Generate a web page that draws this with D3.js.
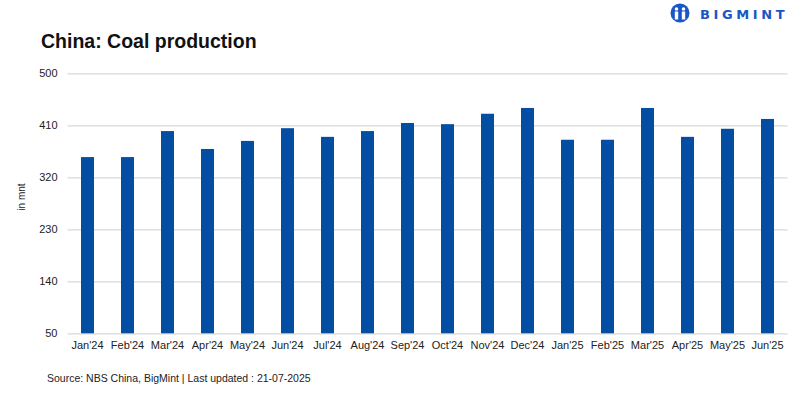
<!DOCTYPE html>
<html>
<head>
<meta charset="utf-8">
<script src="https://cdn.jsdelivr.net/npm/d3@7"></script>
<style>
  body { margin: 0; background: #fff; }
  text { font-family: "Liberation Sans", Arial, sans-serif; }
</style>
</head>
<body>
<div id="chart"></div>
<script>
const FRAME_WIDTH = 800;
const FRAME_HEIGHT = 400;
const MARGINS = {left: 67.5, right: 12.5, top: 73.3, bottom: 66.7};

// data
const MONTHS = ["Jan'24", "Feb'24", "Mar'24", "Apr'24", "May'24", "Jun'24",
                "Jul'24", "Aug'24", "Sep'24", "Oct'24", "Nov'24", "Dec'24",
                "Jan'25", "Feb'25", "Mar'25", "Apr'25", "May'25", "Jun'25"];
const PRODUCTION = [355, 355, 400, 369, 383, 405,
                    390, 400, 414, 412, 430, 440,
                    385, 385, 440, 390, 404, 421];
const Y_TICKS = [50, 140, 230, 320, 410, 500];

const VIS_WIDTH = FRAME_WIDTH - MARGINS.left - MARGINS.right;
const VIS_HEIGHT = FRAME_HEIGHT - MARGINS.top - MARGINS.bottom;

const FRAME = d3.select("#chart")
                  .append("svg")
                    .attr("width", FRAME_WIDTH)
                    .attr("height", FRAME_HEIGHT);

const X_SCALE = d3.scaleBand()
                    .domain(MONTHS)
                    .range([0, VIS_WIDTH])
                    .paddingInner(0.675)
                    .paddingOuter(0.3375);
const Y_SCALE = d3.scaleLinear()
                    .domain([50, 500])
                    .range([VIS_HEIGHT, 0]);

const PLOT = FRAME.append("g")
    .attr("transform", "translate(" + MARGINS.left + "," + MARGINS.top + ")");

// gridlines + y labels
const yAxis = PLOT.append("g")
    .call(d3.axisLeft(Y_SCALE).tickValues(Y_TICKS).tickSize(-VIS_WIDTH).tickPadding(10));
yAxis.select(".domain").remove();
yAxis.selectAll("line").attr("stroke", "#d9d9d9").attr("stroke-width", 1.3);
yAxis.selectAll("text")
    .attr("font-size", "11px")
    .attr("fill", "#222")
    .style("font-family", "'Liberation Sans', Arial, sans-serif");

// bars
PLOT.selectAll(".bar")
    .data(PRODUCTION)
    .enter()
    .append("rect")
      .attr("class", "bar")
      .attr("x", (d, i) => X_SCALE(MONTHS[i]))
      .attr("y", (d) => Y_SCALE(d))
      .attr("width", X_SCALE.bandwidth())
      .attr("height", (d) => VIS_HEIGHT - Y_SCALE(d))
      .attr("fill", "#034ea2");

// x labels
const xAxis = PLOT.append("g")
    .attr("transform", "translate(0," + VIS_HEIGHT + ")")
    .call(d3.axisBottom(X_SCALE).tickSize(0).tickPadding(8));
xAxis.select(".domain").remove();
xAxis.selectAll("text")
    .attr("font-size", "11px")
    .attr("fill", "#222")
    .style("font-family", "'Liberation Sans', Arial, sans-serif");

// y axis title
FRAME.append("text")
    .attr("transform", "translate(25,197) rotate(-90)")
    .attr("text-anchor", "middle")
    .attr("font-size", "10px")
    .attr("fill", "#222")
    .text("in mnt");

// title
FRAME.append("text")
    .attr("x", 41)
    .attr("y", 47.5)
    .attr("font-size", "19.5px")
    .attr("font-weight", "bold")
    .attr("fill", "#111")
    .text("China: Coal production");

// source
FRAME.append("text")
    .attr("x", 47)
    .attr("y", 382)
    .attr("font-size", "10.5px")
    .attr("fill", "#222")
    .text("Source: NBS China, BigMint | Last updated : 21-07-2025");

// logo
const LOGO = FRAME.append("g").attr("transform", "translate(680,13)");
LOGO.append("circle").attr("r", 9.5).attr("fill", "#1a56c4");
LOGO.append("circle").attr("cx", -3.5).attr("cy", -4).attr("r", 1.8).attr("fill", "#fff");
LOGO.append("circle").attr("cx", 3.5).attr("cy", -4).attr("r", 1.8).attr("fill", "#fff");
LOGO.append("rect").attr("x", -5.2).attr("y", -1.5).attr("width", 3.4).attr("height", 8).attr("fill", "#fff");
LOGO.append("rect").attr("x", 1.8).attr("y", -1.5).attr("width", 3.4).attr("height", 8).attr("fill", "#fff");
LOGO.append("rect").attr("x", -0.9).attr("y", -6).attr("width", 1.8).attr("height", 12).attr("fill", "#1a56c4");
FRAME.append("text")
    .attr("x", 700)
    .attr("y", 18.5)
    .attr("font-size", "13px")
    .attr("font-weight", "bold")
    .attr("letter-spacing", "3.6px")
    .attr("fill", "#1a56c4")
    .style("font-family", "'DejaVu Sans', sans-serif")
    .text("BIGMINT");
</script>
</body>
</html>
